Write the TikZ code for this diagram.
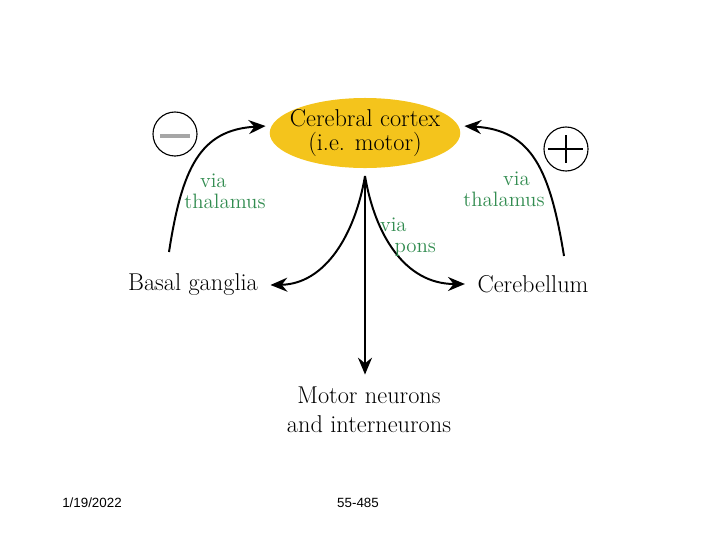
\documentclass[tikz,border=0pt]{standalone}
\usepackage{fontspec}
\newfontfamily\footfont{Liberation Sans}
\usetikzlibrary{shapes.geometric, arrows.meta, calc}
\definecolor{cortexyellow}{RGB}{244,196,28}
\definecolor{viagreen}{RGB}{50,140,80}
\begin{document}
\begin{tikzpicture}[
        x=0.025cm, y=-0.025cm,
        region/.style={font=\fontsize{17.3}{20.5}\selectfont, inner sep=3pt, outer sep=6pt, align=center},
        cortexnode/.style={ellipse, fill=cortexyellow, minimum width=4.75cm, minimum height=1.75cm, inner xsep=-5.5pt, inner ysep=0pt, outer sep=4pt, align=center, font=\fontsize{17.3}{17.2}\selectfont},
        route/.style={line width=1.4pt, -{Stealth[length=12pt, width=10pt, inset=4pt]}},
        via/.style={text=viagreen, font=\fontsize{14.8}{14.8}\selectfont, inner sep=0pt},
        sign/.style={circle, draw, line width=0.8pt, minimum size=1.1cm, inner sep=0pt},
        foot/.style={font=\footfont\fontsize{9.5}{11}\selectfont}
    ]
        \useasboundingbox (0,0) rectangle (720,540);

        % Regions
        \node[cortexnode] (cortex) at (365,133) {Cerebral cortex\\(i.e. motor)};
        \node[region] (basal) at (193,285) {Basal ganglia};
        \node[region] (cerebellum) at (533,284) {Cerebellum};
        \node[region] (motor) at (369,410) {Motor neurons\\and interneurons};

        % Signs
        \node[sign] (minus) at (175,134) {};
        \node[sign] (plus) at (566,149) {};
        \draw[line width=3.5pt, gray!70] ($(minus.center)+(-15,2)$) -- ($(minus.center)+(15,2)$);
        \draw[line width=0.8pt] ($(plus.center)+(-18,0)$) -- ($(plus.center)+(17,0)$);
        \draw[line width=0.8pt] ($(plus.center)+(0,-14)$) -- ($(plus.center)+(0,14)$);

        % Loops via thalamus
        \coordinate (bgup) at (169,252);
        \coordinate (cbup) at (564,256);
        \draw[route] (bgup) .. controls (182,168) and (200,130) .. (cortex.176);
        \draw[route] (cbup) .. controls (550,170) and (532,130) .. (cortex.4);
        \node[via, align=left] (thalleft) at (225,191) {\hspace*{0.75em}via\\thalamus};
        \node[via, align=center] (thalright) at (504,189) {\hspace*{1.2em}via\\thalamus};

        % Descending outputs
        \coordinate (split) at (365,176);
        \draw[route] (split) .. controls (355,235) and (325,284) .. (basal.east);
        \draw[route] (split) .. controls (375,235) and (405,284) .. (cerebellum.west);
        \draw[route] (split) -- (split |- motor.north);
        \node[via, align=left] (pons) at (408,237) {via\\\hspace*{0.7em}pons};

        % Footer
        \node[foot] (date) at (92,503) {1/19/2022};
        \node[foot] (slide) at (358,503) {55-485};
    \end{tikzpicture}
\end{document}
